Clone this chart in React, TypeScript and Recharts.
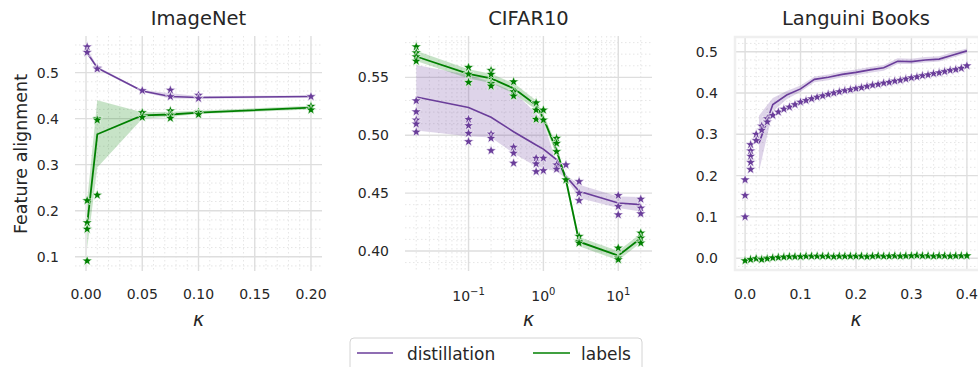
import React from "react";
import {
  ComposedChart,
  Line,
  Area,
  Scatter,
  XAxis,
  YAxis,
  CartesianGrid,
} from "recharts";

const PURPLE = "#6a3d9a";
const GREEN = "#008000";
const TEXT = "#262626";
const FONT = "DejaVu Sans, sans-serif";

// ---- ImageNet ----
const inX = [0.001, 0.01, 0.05, 0.075, 0.1, 0.2];
const inDistMean = [0.543, 0.51, 0.46, 0.448, 0.446, 0.448];
const inDistLo = [0.538, 0.507, 0.458, 0.444, 0.443, 0.446];
const inDistHi = [0.553, 0.513, 0.462, 0.455, 0.449, 0.45];
const inLabMean = [0.17, 0.366, 0.407, 0.409, 0.413, 0.424];
const inLabLo = [0.118, 0.294, 0.4, 0.404, 0.41, 0.42];
const inLabHi = [0.222, 0.44, 0.414, 0.415, 0.417, 0.428];
const inDistStarX = [0.001, 0.001, 0.01, 0.01, 0.05, 0.075, 0.075, 0.1, 0.1, 0.2];
const inDistStarY = [0.556, 0.544, 0.51, 0.508, 0.461, 0.462, 0.448, 0.451, 0.444, 0.448];
const inLabStarX = [0.001, 0.001, 0.001, 0.001, 0.01, 0.01, 0.01, 0.05, 0.05, 0.075, 0.075, 0.075, 0.1, 0.1, 0.2, 0.2];
const inLabStarY = [0.222, 0.174, 0.16, 0.091, 0.4, 0.397, 0.234, 0.413, 0.403, 0.417, 0.408, 0.401, 0.414, 0.409, 0.427, 0.419];

// ---- CIFAR10 ----
const cfX = [0.02, 0.1, 0.2, 0.4, 0.8, 1, 1.5, 2, 3, 10, 20];
const cfDistMean = [0.533, 0.524, 0.5155, 0.503, 0.4915, 0.488, 0.479, 0.4645, 0.4515, 0.4415, 0.44];
const cfDistLo = [0.504, 0.499, 0.498, 0.4845, 0.473, 0.4716, 0.4686, 0.4629, 0.4457, 0.4371, 0.4341];
const cfDistHi = [0.5606, 0.552, 0.546, 0.5376, 0.519, 0.5117, 0.4759, 0.4658, 0.4572, 0.4471, 0.4466];
const cfLabMean = [0.568, 0.553, 0.549, 0.5405, 0.526, 0.5147, 0.487, 0.4615, 0.408, 0.396, 0.411];
const cfLabLo = [0.564, 0.549, 0.545, 0.536, 0.522, 0.511, 0.483, 0.458, 0.404, 0.392, 0.407];
const cfLabHi = [0.573, 0.557, 0.553, 0.545, 0.53, 0.519, 0.491, 0.465, 0.412, 0.4, 0.415];
const cfDistStarX = [0.02, 0.02, 0.02, 0.02, 0.02, 0.1, 0.1, 0.1, 0.1, 0.2, 0.2, 0.2, 0.4, 0.4, 0.4, 0.8, 0.8, 0.8, 1, 1, 1.5, 1.5, 2, 3, 3, 3, 10, 10, 10, 20, 20, 20];
const cfDistStarY = [0.5298, 0.5203, 0.5132, 0.5097, 0.5028, 0.5138, 0.5083, 0.5017, 0.4945, 0.5011, 0.4974, 0.4867, 0.4897, 0.4845, 0.4759, 0.4802, 0.4753, 0.4686, 0.4802, 0.4695, 0.4744, 0.4707, 0.4744, 0.46, 0.45, 0.4436, 0.448, 0.4385, 0.4313, 0.4448, 0.4371, 0.4322];
const cfLabStarX = [0.02, 0.02, 0.02, 0.02, 0.1, 0.1, 0.1, 0.2, 0.2, 0.2, 0.2, 0.4, 0.4, 0.4, 0.8, 0.8, 0.8, 1, 1, 1.5, 1.5, 1.5, 2, 3, 3, 3, 10, 10, 10, 20, 20, 20];
const cfLabStarY = [0.5764, 0.5712, 0.5678, 0.564, 0.5586, 0.5528, 0.5457, 0.556, 0.5526, 0.5448, 0.5425, 0.5462, 0.5376, 0.5339, 0.528, 0.5218, 0.5138, 0.5218, 0.5132, 0.4974, 0.4931, 0.4859, 0.4615, 0.4126, 0.4083, 0.4069, 0.4026, 0.394, 0.3925, 0.4155, 0.4112, 0.4069];

// ---- Languini Books ----
const lgX = [0.025, 0.05, 0.075, 0.1, 0.125, 0.15, 0.175, 0.2, 0.225, 0.25, 0.275, 0.3, 0.325, 0.35, 0.375, 0.4];
const lgDistMean = [0.278, 0.372, 0.395, 0.41, 0.433, 0.438, 0.445, 0.45, 0.456, 0.461, 0.477, 0.476, 0.48, 0.482, 0.492, 0.502];
const lgDistLo = [0.21, 0.355, 0.385, 0.403, 0.426, 0.431, 0.438, 0.443, 0.449, 0.454, 0.47, 0.47, 0.474, 0.476, 0.486, 0.496];
const lgDistHi = [0.345, 0.388, 0.405, 0.418, 0.44, 0.445, 0.452, 0.457, 0.463, 0.468, 0.484, 0.483, 0.487, 0.489, 0.499, 0.508];
const lgLabMean = [0.001, 0.003, 0.004, 0.005, 0.005, 0.005, 0.005, 0.005, 0.005, 0.005, 0.006, 0.006, 0.006, 0.006, 0.006, 0.006];
const lgLabLo = [-0.002, 0.001, 0.002, 0.003, 0.003, 0.003, 0.003, 0.003, 0.003, 0.003, 0.004, 0.004, 0.004, 0.004, 0.004, 0.004];
const lgLabHi = [0.004, 0.005, 0.006, 0.007, 0.007, 0.007, 0.007, 0.007, 0.007, 0.007, 0.008, 0.008, 0.008, 0.008, 0.008, 0.008];
const lgStarX = [
  0, 0.01, 0.02, 0.03, 0.04, 0.05, 0.06, 0.07, 0.08, 0.09, 0.1, 0.11, 0.12, 0.13, 0.14, 0.15, 0.16, 0.17, 0.18, 0.19, 0.2,
  0.21, 0.22, 0.23, 0.24, 0.25, 0.26, 0.27, 0.28, 0.29, 0.3, 0.31, 0.32, 0.33, 0.34, 0.35, 0.36, 0.37, 0.38, 0.39, 0.4,
];
const lgDistStarY = [
  0.19, 0.275, 0.3, 0.32, 0.338, 0.346, 0.354, 0.361, 0.366, 0.372, 0.378, 0.382, 0.386, 0.39, 0.393, 0.397, 0.4, 0.403, 0.406, 0.408, 0.411,
  0.413, 0.416, 0.419, 0.421, 0.424, 0.426, 0.429, 0.431, 0.434, 0.437, 0.439, 0.442, 0.444, 0.447, 0.449, 0.452, 0.455, 0.457, 0.46, 0.466,
];
const lgDistExtraX = [0, 0, 0.01, 0.01, 0.01, 0.01, 0.02, 0.03, 0.04];
const lgDistExtraY = [0.152, 0.1, 0.26, 0.247, 0.232, 0.215, 0.285, 0.31, 0.33];
const lgLabStarY = [
  -0.006, -0.003, -0.001, -0.003, -0.001, 0.001, 0.002, 0.003, 0.004, 0.004, 0.004, 0.005, 0.005, 0.005, 0.005, 0.005, 0.004, 0.005, 0.005, 0.005, 0.005,
  0.005, 0.004, 0.005, 0.006, 0.005, 0.005, 0.006, 0.005, 0.006, 0.006, 0.007, 0.006, 0.006, 0.005, 0.006, 0.006, 0.005, 0.006, 0.006, 0.006,
];

const toRows = (xs: number[], dm: number[], dl: number[], dh: number[], lm: number[], ll: number[], lh: number[]) =>
  xs.map((x, i) => ({ x, dMean: dm[i], dBand: [dl[i], dh[i]], lMean: lm[i], lBand: [ll[i], lh[i]] }));

const toPts = (xs: number[], ys: number[]) => xs.map((x, i) => ({ x, y: ys[i] }));

const starShape = (color: string) => (props: any) => {
  const { cx, cy } = props;
  if (cx == null || cy == null) return <g />;
  const pts: string[] = [];
  for (let k = 0; k < 10; k++) {
    const r = k % 2 === 0 ? 5.4 : 2.2;
    const a = -Math.PI / 2 + (k * Math.PI) / 5;
    pts.push(`${cx + r * Math.cos(a)},${cy + r * Math.sin(a)}`);
  }
  return <polygon points={pts.join(" ")} fill={color} stroke="#ffffff" strokeWidth={0.6} />;
};

const LogTick = (props: any) => {
  const { x, y, payload } = props;
  const e = Math.round(Math.log10(payload.value));
  const sup = e < 0 ? "\u2212" + Math.abs(e) : String(e);
  return (
    <text x={x} y={y + 12} textAnchor="middle" fill={TEXT} fontSize={14} fontFamily={FONT}>
      10<tspan dy={-6} fontSize={10}>{sup}</tspan>
    </text>
  );
};

interface PanelProps {
  left: number;
  width: number;
  marginLeft: number;
  marginRight: number;
  rows: any[];
  distStars: { x: number; y: number }[];
  labStars: { x: number; y: number }[];
  xDomain: [number, number];
  xTicks: number[];
  xLog?: boolean;
  xFmt: (v: number) => string;
  yDomain: [number, number];
  yTicks: number[];
  yFmt: (v: number) => string;
  xMinor: number[];
  yMinor: number[];
}

function Panel(p: PanelProps) {
  const tickStyle = { fontSize: 14, fill: TEXT, fontFamily: FONT };
  return (
    <div style={{ position: "absolute", left: p.left, top: 0 }}>
      <ComposedChart
        width={p.width}
        height={367}
        data={p.rows}
        margin={{ top: 36, right: p.marginRight, bottom: 66, left: p.marginLeft }}
      >
        <CartesianGrid
          stroke="#e3e3e3"
          strokeDasharray="1.5 2.5"
          strokeWidth={0.9}
          horizontalValues={p.yMinor}
          verticalValues={p.xMinor}
          syncWithTicks={false}
        />
        <CartesianGrid
          stroke="#dedede"
          strokeWidth={1.4}
          horizontalValues={p.yTicks}
          verticalValues={p.xTicks}
          syncWithTicks={false}
        />
        <XAxis
          dataKey="x"
          type="number"
          scale={p.xLog ? "log" : "auto"}
          domain={p.xDomain}
          allowDataOverflow
          ticks={p.xTicks}
          tickFormatter={p.xFmt}
          tick={p.xLog ? <LogTick /> : tickStyle}
          axisLine={false}
          tickLine={false}
          tickSize={6}
          tickMargin={12}
          height={30}
          interval={0}
        />
        <YAxis
          type="number"
          domain={p.yDomain}
          allowDataOverflow
          ticks={p.yTicks}
          tickFormatter={p.yFmt}
          tick={tickStyle}
          axisLine={false}
          tickLine={false}
          tickSize={6}
          tickMargin={10}
          width={40}
          interval={0}
        />
        <Area dataKey="dBand" stroke="none" fill={PURPLE} fillOpacity={0.22} isAnimationActive={false} />
        <Area dataKey="lBand" stroke="none" fill={GREEN} fillOpacity={0.22} isAnimationActive={false} />
        <Line dataKey="dMean" stroke={PURPLE} strokeWidth={1.6} dot={false} type="linear" isAnimationActive={false} />
        <Line dataKey="lMean" stroke={GREEN} strokeWidth={1.8} dot={false} type="linear" isAnimationActive={false} />
        <Scatter data={p.distStars} dataKey="y" shape={starShape(PURPLE)} isAnimationActive={false} />
        <Scatter data={p.labStars} dataKey="y" shape={starShape(GREEN)} isAnimationActive={false} />
      </ComposedChart>
    </div>
  );
}

const f1 = (v: number) => v.toFixed(1);
const f2 = (v: number) => v.toFixed(2);

export default function App() {
  const inRows = toRows(inX, inDistMean, inDistLo, inDistHi, inLabMean, inLabLo, inLabHi);
  const cfRows = toRows(cfX, cfDistMean, cfDistLo, cfDistHi, cfLabMean, cfLabLo, cfLabHi);
  const lgRows = toRows(lgX, lgDistMean, lgDistLo, lgDistHi, lgLabMean, lgLabLo, lgLabHi);

  const inXMinor = [0.01, 0.02, 0.03, 0.04, 0.06, 0.07, 0.08, 0.09, 0.11, 0.12, 0.13, 0.14, 0.16, 0.17, 0.18, 0.19];
  const inYMinor = [0.08, 0.12, 0.14, 0.16, 0.18, 0.22, 0.24, 0.26, 0.28, 0.32, 0.34, 0.36, 0.38, 0.42, 0.44, 0.46, 0.48, 0.52, 0.54, 0.56];
  const cfXMinor = [0.02, 0.03, 0.04, 0.05, 0.06, 0.07, 0.08, 0.09, 0.2, 0.3, 0.4, 0.5, 0.6, 0.7, 0.8, 0.9, 2, 3, 4, 5, 6, 7, 8, 9, 20];
  const cfYMinor = [0.39, 0.41, 0.42, 0.43, 0.44, 0.46, 0.47, 0.48, 0.49, 0.51, 0.52, 0.53, 0.54, 0.56, 0.57, 0.58];
  const lgXMinor = [0.02, 0.04, 0.06, 0.08, 0.12, 0.14, 0.16, 0.18, 0.22, 0.24, 0.26, 0.28, 0.32, 0.34, 0.36, 0.38];
  const lgYMinor = [-0.02, 0.02, 0.04, 0.06, 0.08, 0.12, 0.14, 0.16, 0.18, 0.22, 0.24, 0.26, 0.28, 0.32, 0.34, 0.36, 0.38, 0.42, 0.44, 0.46, 0.48, 0.52];

  return (
    <div style={{ position: "absolute", left: 0, top: 0, width: 978, height: 367, background: "#fff", overflow: "hidden" }}>
      <Panel
        left={0}
        width={330}
        marginLeft={35}
        marginRight={8}
        rows={inRows}
        distStars={toPts(inDistStarX, inDistStarY)}
        labStars={toPts(inLabStarX, inLabStarY)}
        xDomain={[-0.0098, 0.2098]}
        xTicks={[0, 0.05, 0.1, 0.15, 0.2]}
        xFmt={f2}
        yDomain={[0.069, 0.5795]}
        yTicks={[0.1, 0.2, 0.3, 0.4, 0.5]}
        yFmt={f1}
        xMinor={inXMinor}
        yMinor={inYMinor}
      />
      <Panel
        left={330}
        width={330}
        marginLeft={35}
        marginRight={8}
        rows={cfRows}
        distStars={toPts(cfDistStarX, cfDistStarY)}
        labStars={toPts(cfLabStarX, cfLabStarY)}
        xDomain={[0.01416, 28.25]}
        xTicks={[0.1, 1, 10]}
        xLog
        xFmt={(v) => String(v)}
        yDomain={[0.3827, 0.5857]}
        yTicks={[0.4, 0.45, 0.5, 0.55]}
        yFmt={f2}
        xMinor={cfXMinor}
        yMinor={cfYMinor}
      />
      <Panel
        left={660}
        width={318}
        marginLeft={34}
        marginRight={0}
        rows={lgRows}
        distStars={[...toPts(lgStarX, lgDistStarY), ...toPts(lgDistExtraX, lgDistExtraY)]}
        labStars={toPts(lgStarX, lgLabStarY)}
        xDomain={[-0.02, 0.42]}
        xTicks={[0, 0.1, 0.2, 0.3, 0.4]}
        xFmt={f1}
        yDomain={[-0.031, 0.538]}
        yTicks={[0, 0.1, 0.2, 0.3, 0.4, 0.5]}
        yFmt={f1}
        xMinor={lgXMinor}
        yMinor={lgYMinor}
      />
      <svg width={978} height={367} style={{ position: "absolute", left: 0, top: 0, pointerEvents: "none" }}>
        <rect x={735} y={37} width={244} height={233} fill="none" stroke="#efefef" strokeWidth={2.5} />
        <g fontFamily={FONT} fill={TEXT}>
          <text x={198.5} y={25} fontSize={19.5} textAnchor="middle">ImageNet</text>
          <text x={528.5} y={25} fontSize={19.5} textAnchor="middle">CIFAR10</text>
          <text x={856} y={25} fontSize={19.5} textAnchor="middle">Languini Books</text>
          <text x={198.5} y={326} fontSize={19} fontStyle="italic" textAnchor="middle">κ</text>
          <text x={528.5} y={326} fontSize={19} fontStyle="italic" textAnchor="middle">κ</text>
          <text x={856} y={326} fontSize={19} fontStyle="italic" textAnchor="middle">κ</text>
          <text x={0} y={0} fontSize={17.5} textAnchor="middle" transform="translate(27,154) rotate(-90)">
            Feature alignment
          </text>
          <rect x={350} y={338} width={292} height={40} rx={4} fill="#fff" stroke="#d4d4d4" strokeWidth={1} />
          <line x1={357} y1={353} x2={393} y2={353} stroke={PURPLE} strokeWidth={1.6} />
          <text x={407} y={360} fontSize={17}>distillation</text>
          <line x1={533} y1={353} x2={570} y2={353} stroke={GREEN} strokeWidth={1.6} />
          <text x={581} y={360} fontSize={17}>labels</text>
        </g>
      </svg>
    </div>
  );
}
